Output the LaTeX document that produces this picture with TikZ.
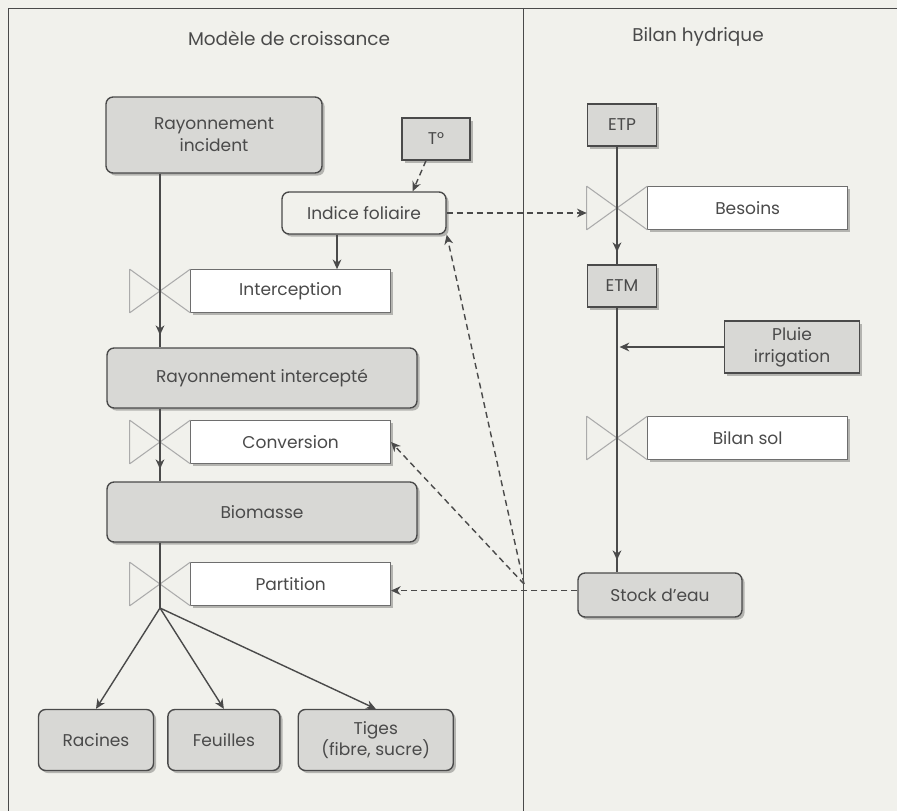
\documentclass[tikz,border=0pt]{standalone}
\usepackage{fontspec}
\setmainfont{Poppins}
\usepackage{tikz}
\usetikzlibrary{arrows.meta, positioning, shadows, decorations.markings}
\definecolor{paper}{HTML}{F1F1EC}
\definecolor{ink}{HTML}{4A4A4A}
\definecolor{boxgray}{HTML}{D8D8D5}
\definecolor{valvegray}{HTML}{ABABAB}

\begin{document}
\begin{tikzpicture}[
    x=0.02cm, y=-0.02cm,
    font=\fontsize{9.7}{12.5}\selectfont, text=ink,
    shade/.style = {drop shadow={shadow xshift=1.5pt, shadow yshift=-1.5pt,
                    opacity=0.25, fill=black}},
    pool/.style = {rectangle, rounded corners=4pt, draw=ink, thick,
                   fill=boxgray, align=center, shade},
    driver/.style = {rectangle, draw=ink, thick, fill=boxgray,
                     align=center, shade},
    aux/.style = {rectangle, rounded corners=4pt, draw=ink, thick,
                  fill=paper, align=center, shade},
    valve/.style = {rectangle, minimum width=1.2cm, minimum height=0.86cm,
                    inner sep=0pt},
    rate/.style = {rectangle, draw=ink!80, fill=white, minimum width=4cm,
                   minimum height=0.86cm, inner sep=0pt, shade},
    title/.style = {font=\fontsize{10.5}{12}\selectfont},
    valveline/.style = {draw=valvegray, semithick},
    line/.style = {draw=ink, thick},
    arrow/.style = {line, -{Stealth[length=5.5pt, width=5pt]}},
    flow/.style = {line, postaction={decorate},
                   decoration={markings, mark=at position -7pt with
                   {\arrow{Stealth[length=5.5pt, width=5pt]}}}},
    link/.style = {draw=ink, thick, dash pattern=on 3.4pt off 2.3pt,
                   -{Stealth[length=5.5pt, width=5pt]}}
  ]
  \useasboundingbox[fill=paper] (0,0) rectangle (897,811);
  \draw[draw=ink, thin] (8,811) -- (8,8) -- (897,8);
  \draw[draw=ink, thin] (523,8) -- (523,811);

  \node[title] (tcroiss) at (289,38) {Modèle de croissance};
  \node[title] (thydr)   at (698,37) {Bilan hydrique};

  % modele de croissance
  \node[pool, minimum width=4.32cm, minimum height=1.52cm] (ri) at (214,135)
       {Rayonnement\\incident};
  \node[driver, minimum width=1.36cm, minimum height=0.84cm] (temp) at (436,139) {T°};
  \node[aux, minimum width=3.28cm, minimum height=0.84cm] (lai) at (364,213) {Indice foliaire};
  \node[valve] (vInt) at (160,291) {};
  \node[rate, right=0pt of vInt] (rInt) {Interception};
  \node[pool, minimum width=6.2cm, minimum height=1.2cm] (rint) at (262,378)
       {Rayonnement intercepté};
  \node[valve] (vConv) at (160,442) {};
  \node[rate, right=0pt of vConv] (rConv) {Conversion};
  \node[pool, minimum width=6.2cm, minimum height=1.2cm] (bio) at (262,512) {Biomasse};
  \node[valve] (vPart) at (160,584) {};
  \node[rate, right=0pt of vPart] (rPart) {Partition};
  \coordinate (split) at (160,608);
  \node[pool, minimum width=2.3cm, minimum height=1.22cm] (rac) at (96,740) {Racines};
  \node[pool, minimum width=2.24cm, minimum height=1.22cm, right=0.26cm of rac] (feu) {Feuilles};
  \node[pool, minimum width=3.1cm, minimum height=1.22cm, right=0.34cm of feu] (tig)
       {Tiges\\[-1pt](fibre, sucre)};

  % bilan hydrique
  \node[driver, minimum width=1.38cm, minimum height=0.84cm] (etp) at (622,125) {ETP};
  \node[valve] (vBes) at (617,208) {};
  \node[rate, right=0pt of vBes] (rBes) {Besoins};
  \node[driver, minimum width=1.38cm, minimum height=0.84cm] (etm) at (622,286) {ETM};
  \node[driver, minimum width=2.7cm, minimum height=1.04cm] (pluie) at (792,347)
       {Pluie\\irrigation};
  \node[valve] (vSol) at (617,438) {};
  \node[rate, right=0pt of vSol] (rSol) {Bilan sol};
  \node[pool, minimum width=3.28cm, minimum height=0.88cm] (stock) at (660,595) {Stock d'eau};
  \coordinate (junc) at (524,584);
  \coordinate (sout) at ([yshift=2.5pt]stock.west);

  \foreach \v in {vInt, vConv, vPart, vBes, vSol}
    \draw[valveline] (\v.north west) -- (\v.south east)
                     (\v.south west) -- (\v.north east)
                     (\v.north west) -- (\v.south west);

  \draw[flow] (ri.south -| vInt) -- (rint.north -| vInt);
  \draw[flow] (rint.south -| vConv) -- (bio.north -| vConv);
  \draw[line] (bio.south -| vPart) -- (split);
  \draw[arrow] (split) -- (rac.north);
  \draw[arrow] (split) -- (feu.north);
  \draw[arrow] (split) -- (tig.north);
  \draw[arrow] ([xshift=-0.54cm]lai.south) -- ([xshift=-0.54cm]lai.south |- rInt.north);

  \draw[flow] (etp.south -| vBes) -- (etm.north -| vBes);
  \draw[flow] (etm.south -| vSol) -- (stock.north -| vSol);
  \draw[arrow, shorten >=1.5pt] (pluie.west) -- (pluie.west -| vSol);

  \draw[link] ([xshift=-0.2cm]temp.south) -- ([xshift=-0.68cm]lai.north east);
  \draw[link] (lai.east) -- (lai.east -| vBes.west);
  \draw[link] (junc) -- (lai.south east);
  \draw[link] (junc) -- (rConv.east);
  \draw[link] (sout) -- (rPart.east |- sout);
\end{tikzpicture}
\end{document}
